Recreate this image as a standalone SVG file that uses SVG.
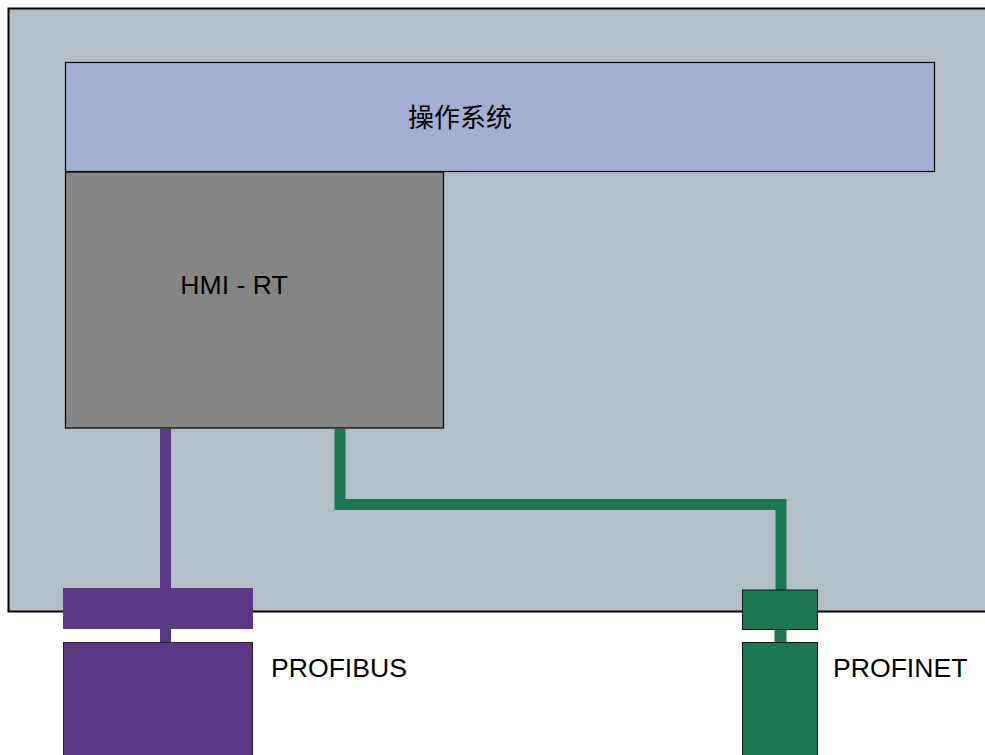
<svg xmlns="http://www.w3.org/2000/svg" width="985" height="755" viewBox="0 0 985 755">
<style>
.t{font-family:"Liberation Sans","Noto Sans CJK SC",sans-serif;font-size:26px;fill:#000}
.l{font-size:26.6px}
.pu{fill:#5a3886}
.gr{fill:#1b7752}
</style>
<rect x="0" y="0" width="985" height="755" fill="#fff"/>
<g id="system">
<rect x="8.5" y="8.5" width="1000" height="603" fill="#b4bec6" stroke="#000" stroke-width="2"/>
</g>
<g id="os">
<rect x="65.5" y="62.5" width="869" height="109" fill="#a2b0d4" stroke="#000" stroke-width="1.2"/>
<text class="t" x="460" y="127" text-anchor="middle">操作系统</text>
</g>
<g id="hmi">
<rect x="65.5" y="172" width="378" height="256" fill="#858585" stroke="#000" stroke-width="1.2"/>
<text class="t l" x="234" y="294" text-anchor="middle">HMI - RT</text>
</g>
<g id="connectors">
<rect class="pu" x="160" y="429" width="11" height="214"/>
<path d="M340 429 V504.5 H781 V590" fill="none" stroke="#1b7752" stroke-width="11"/>
<rect class="gr" x="774.5" y="629" width="12" height="14"/>
</g>
<g id="profibus">
<rect class="pu" x="63" y="588" width="190" height="41"/>
<rect class="pu" x="63.5" y="642.5" width="189" height="115" stroke="#222" stroke-width="1"/>
<text class="t l" x="271" y="677">PROFIBUS</text>
</g>
<g id="profinet">
<rect class="gr" x="742.5" y="590" width="75" height="39.5" stroke="#111" stroke-width="1"/>
<rect class="gr" x="742.5" y="642.5" width="75" height="115" stroke="#111" stroke-width="1"/>
<text class="t l" x="833" y="677">PROFINET</text>
</g>
</svg>
